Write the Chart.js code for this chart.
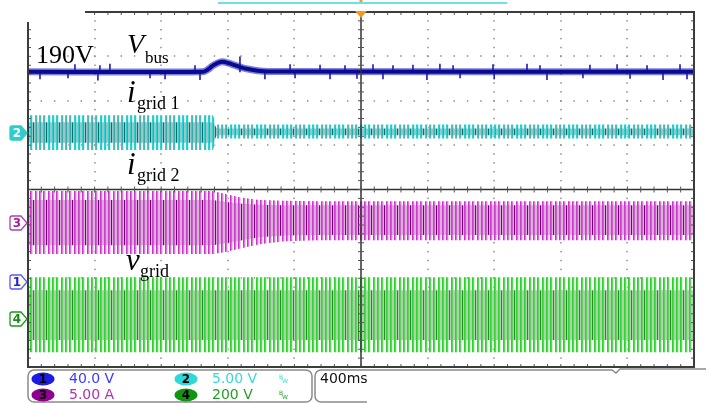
<!DOCTYPE html>
<html><head><meta charset="utf-8">
<script src="https://cdn.jsdelivr.net/npm/chart.js@4.4.1/dist/chart.umd.min.js"></script>
<style>html,body{margin:0;padding:0;background:#fff;overflow:hidden}canvas{display:block}</style>
</head><body>
<canvas id="c" width="706" height="403"></canvas>
<script>
// ---------------- data ----------------
const timebase = '400ms';
const channelIds = ['1', '2', '3', '4'];
const channelScales = ['40.0 V', '5.00 V', '5.00 A', '200 V'];
const channelPerDiv = [40, 5, 5, 200];

// Ch1 : V_bus (V)
const vbusT = [-2, -0.95, -0.92, -0.89, -0.86, -0.83, -0.80, -0.76, -0.72, -0.68, -0.62, -0.56, 2];
const vbusV = [189.5, 189.5, 191.5, 195, 197.5, 198.5, 197.5, 195.5, 193.5, 192, 190.5, 189.8, 189.5];
const vbusBase = 189.5;
const spikeT = [-1.718, -1.568, -1.508, -0.997, -0.727, -0.426, -0.246, -0.096, 0.072, 0.192, 0.312, 0.474, 0.553, 0.793, 0.997, 1.075, 1.375, 1.538, 1.718, 1.916,
                -1.928, -1.760, -1.580, -1.267, -1.177, -0.967, -0.577, -0.396, -0.186, -0.024, 0.132, 0.396, 0.595, 0.800, 1.117, 1.333, 1.616, 1.814, 1.958];
const spikeV = [196, 195, 196.5, 195, 203, 196, 195.5, 195, 196, 195, 195.5, 196.5, 195, 196, 196.5, 195, 195.5, 196, 195, 196,
                183, 184, 182, 184, 183, 182.5, 183, 184, 183, 183.5, 183, 182.5, 184, 183, 182.5, 184, 183.5, 182.5, 183];

// Ch2 : i_grid1 envelope
const ig1T = [-2, -0.89, -0.865, 2];
const ig1Top = [2.0, 2.0, 0.95, 0.95];
const ig1Bot = [-1.92, -1.92, -0.62, -0.62];
const ig1InTop = [1.2, 1.2, 0.5, 0.5];
const ig1InBot = [-1.1, -1.1, -0.25, -0.25];

// Ch3 : i_grid2 envelope (A)
const ig2T = [-2, -0.89, -0.82, -0.73, -0.61, -0.46, -0.25, 2];
const ig2Top = [3.6, 3.6, 3.3, 2.9, 2.6, 2.5, 2.45, 2.45];
const ig2Bot = [-3.5, -3.5, -3.3, -2.9, -2.4, -2.05, -1.95, -1.95];
const ig2InTop = [2.6, 2.6, 2.4, 2.2, 2.05, 2.0, 2.0, 2.0];
const ig2InBot = [-2.5, -2.5, -2.3, -2.0, -1.6, -1.4, -1.35, -1.35];

// Ch4 : v_grid envelope (V)
const vgT = [-2, 2];
const vgTop = [188, 188];
const vgBot = [-150, -150];
const vgInTop = [130, 130];
const vgInBot = [-95, -95];

// ---------------- styling ----------------
const canvas = document.getElementById('c');
const ctxMain = canvas.getContext('2d');
function stripePattern(cols) {
  const cv = document.createElement('canvas'); cv.width = cols.length; cv.height = 4;
  const g = cv.getContext('2d');
  cols.forEach((col, i) => { if (col) { g.fillStyle = col; g.fillRect(i, 0, 1, 4); } });
  return ctxMain.createPattern(cv, 'repeat');
}
const outerCols = (B, B2, L) => [B, B2, L, null, B, B2, L, null, null, B, B2, L, null];
const innerCols = (B, B2, F, D) => [B, B2, F, F, B, B2, F, D, F, B, B2, F, F];

const pat = {
  c2o: stripePattern(outerCols('#2ecfcf', '#4fb8b8', '#c8f2f2')),
  c2i: stripePattern(innerCols('#33d0d0', '#3aa8a8', '#92c8c8', '#0a7070')),
  c3o: stripePattern(outerCols('#cc33cc', '#dd77dd', '#f2ccf2')),
  c3i: stripePattern(innerCols('#cc3fcc', '#c860c8', '#dcaedc', '#7a007a')),
  c4o: stripePattern(outerCols('#2fd02f', '#55d855', '#cdf2cd')),
  c4i: stripePattern(innerCols('#33d433', '#60d060', '#acd2ac', '#2a8a2a'))
};

// channel zero offsets in divisions from screen centre (layout)
const chOffset = [-2.085, 1.273, -0.755, -2.918];
function yAxis(i) {
  const pd = channelPerDiv[i], off = chOffset[i];
  return { type: 'linear', display: false, min: -(4 + off) * pd, max: (4 - off) * pd };
}

function band(t, top, bot, axis, pattern, order) {
  const base = { type: 'line', yAxisID: axis, borderColor: 'transparent', borderWidth: 0, pointRadius: 0, tension: 0, order };
  return [
    Object.assign({}, base, { data: t.map((x, i) => ({ x, y: top[i] })), fill: false }),
    Object.assign({}, base, { data: t.map((x, i) => ({ x, y: bot[i] })), fill: '-1', backgroundColor: pattern })
  ];
}

const vbusPts = vbusT.map((x, i) => ({ x, y: vbusV[i] }));
const datasets = [].concat(
  band(vgT, vgTop, vgBot, 'y4', pat.c4o, 4),
  band(vgT, vgInTop, vgInBot, 'y4', pat.c4i, 3),
  band(ig2T, ig2Top, ig2Bot, 'y3', pat.c3o, 4),
  band(ig2T, ig2InTop, ig2InBot, 'y3', pat.c3i, 3),
  band(ig1T, ig1Top, ig1Bot, 'y2', pat.c2o, 4),
  band(ig1T, ig1InTop, ig1InBot, 'y2', pat.c2i, 3),
  [{
    type: 'line', yAxisID: 'y1', order: 2, pointRadius: 0, tension: 0.35,
    borderColor: 'rgba(40,40,205,0.6)', borderWidth: 7, fill: false, data: vbusPts
  }, {
    type: 'bar', yAxisID: 'y1', order: 1, grouped: false, barThickness: 1,
    backgroundColor: '#2323b4',
    data: spikeT.map((t, i) => ({ x: t, y: [vbusBase, spikeV[i]] }))
  }, {
    type: 'line', yAxisID: 'y1', order: 0, pointRadius: 0, tension: 0.35,
    borderColor: '#0a0a8f', borderWidth: 4, fill: false, data: vbusPts
  }]
);

// ---------------- scope decorations ----------------
const scopePlugin = {
  id: 'scope',
  beforeDatasetsDraw(chart) {
    const { ctx } = chart;
    const xs = chart.scales.x, yd = chart.scales.ydiv;
    ctx.save();
    ctx.fillStyle = '#8f8f8f';
    for (let k = -4; k <= 4; k++) {
      if (k === 0) continue;
      const x = Math.round(xs.getPixelForValue(k * 0.4));
      for (let m = 0; m <= 40; m++) {
        const y = yd.getPixelForValue(-4 + m * 0.2);
        ctx.fillRect(x - 0.75, y - 0.75, 1.5, 1.5);
      }
    }
    for (let j = -3; j <= 3; j++) {
      if (j === 0) continue;
      const y = Math.round(yd.getPixelForValue(j));
      for (let m = 0; m <= 50; m++) {
        const x = xs.getPixelForValue(-2 + m * 0.08);
        ctx.fillRect(x - 0.75, y - 0.75, 1.5, 1.5);
      }
    }
    ctx.restore();
  },
  afterDatasetsDraw(chart) {
    const { ctx, chartArea: a } = chart;
    const xs = chart.scales.x, yd = chart.scales.ydiv;
    ctx.save();
    const cx = xs.getPixelForValue(0), cy = yd.getPixelForValue(0);
    ctx.strokeStyle = '#333'; ctx.lineWidth = 1.5;
    ctx.beginPath(); ctx.moveTo(cx, a.top); ctx.lineTo(cx, a.bottom); ctx.moveTo(a.left, cy); ctx.lineTo(a.right, cy); ctx.stroke();
    ctx.lineWidth = 1; ctx.strokeStyle = '#555';
    ctx.beginPath();
    for (let m = 0; m <= 40; m++) { const y = yd.getPixelForValue(-4 + m * 0.2); ctx.moveTo(cx - 3, y); ctx.lineTo(cx + 3, y); }
    for (let m = 0; m <= 50; m++) { const x = xs.getPixelForValue(-2 + m * 0.08); ctx.moveTo(x, cy - 3); ctx.lineTo(x, cy + 3); }
    for (let m = 1; m < 50; m++) {
      const x = xs.getPixelForValue(-2 + m * 0.08);
      if (x > 88) { ctx.moveTo(x, a.top); ctx.lineTo(x, a.top + 3); }
      ctx.moveTo(x, a.bottom); ctx.lineTo(x, a.bottom - 3);
    }
    for (let m = 1; m < 40; m++) {
      const y = yd.getPixelForValue(-4 + m * 0.2);
      if (y > 24) { ctx.moveTo(a.left, y); ctx.lineTo(a.left + 3, y); }
      ctx.moveTo(a.right, y); ctx.lineTo(a.right - 3, y);
    }
    ctx.stroke();
    ctx.strokeStyle = '#3c3c3c'; ctx.lineWidth = 2;
    ctx.beginPath();
    ctx.moveTo(85, a.top); ctx.lineTo(a.right, a.top); ctx.lineTo(a.right, a.bottom); ctx.lineTo(a.left, a.bottom); ctx.lineTo(a.left, 22);
    ctx.stroke();
    ctx.restore();
  },
  afterDraw(chart) {
    const { ctx, chartArea: a } = chart;
    const xs = chart.scales.x;
    ctx.save();
    ctx.strokeStyle = '#3fd6e0'; ctx.lineWidth = 1.5;
    ctx.beginPath(); ctx.moveTo(218, 3); ctx.lineTo(507, 3); ctx.stroke();
    const cx = xs.getPixelForValue(0);
    ctx.fillStyle = '#f39a1c';
    ctx.beginPath(); ctx.moveTo(cx - 6, a.top - 1); ctx.lineTo(cx + 6, a.top - 1); ctx.lineTo(cx, a.top + 6); ctx.closePath(); ctx.fill();
    ctx.fillRect(cx - 1.5, 0, 3, 2);

    const marks = [
      { id: channelIds[1], ax: 'y2', stroke: '#2ccccc', fill: '#33cccc', text: '#ffffff' },
      { id: channelIds[2], ax: 'y3', stroke: '#b040b0', fill: '#ffffff', text: '#a020a0' },
      { id: channelIds[0], ax: 'y1', stroke: '#5a5aff', fill: '#fffbe0', text: '#2020e0' },
      { id: channelIds[3], ax: 'y4', stroke: '#1a9a1a', fill: '#ffffff', text: '#1a8a1a' }
    ];
    marks.forEach(m => {
      const y = chart.scales[m.ax].getPixelForValue(0);
      const x0 = 10, x1 = 27;
      ctx.beginPath();
      ctx.moveTo(x0 + 2, y - 7); ctx.lineTo(x1 - 6, y - 7); ctx.lineTo(x1, y); ctx.lineTo(x1 - 6, y + 7);
      ctx.lineTo(x0 + 2, y + 7); ctx.quadraticCurveTo(x0, y + 7, x0, y + 5); ctx.lineTo(x0, y - 5); ctx.quadraticCurveTo(x0, y - 7, x0 + 2, y - 7);
      ctx.closePath();
      ctx.fillStyle = m.fill; ctx.fill();
      ctx.strokeStyle = m.stroke; ctx.lineWidth = 1.3; ctx.stroke();
      ctx.fillStyle = m.text; ctx.font = 'bold 12px "DejaVu Sans", sans-serif';
      ctx.textAlign = 'center'; ctx.textBaseline = 'middle';
      ctx.fillText(m.id, 17, y + 0.5);
    });

    const serif = '"Liberation Serif", "Times New Roman", serif';
    ctx.fillStyle = '#000'; ctx.textAlign = 'left'; ctx.textBaseline = 'alphabetic';
    ctx.font = '26px ' + serif; ctx.fillText('190V', 36, 63);
    ctx.font = 'italic 28px ' + serif; ctx.fillText('V', 127, 53);
    ctx.font = '17px ' + serif; ctx.fillText('bus', 145, 63);
    ctx.font = 'italic 31px ' + serif; ctx.fillText('i', 127, 102);
    ctx.font = '18px ' + serif; ctx.fillText('grid 1', 137, 109);
    ctx.font = 'italic 31px ' + serif; ctx.fillText('i', 127, 174);
    ctx.font = '18px ' + serif; ctx.fillText('grid 2', 137, 181);
    ctx.font = 'italic 31px ' + serif; ctx.fillText('v', 126, 270);
    ctx.font = '18px ' + serif; ctx.fillText('grid', 140, 277);

    ctx.strokeStyle = '#8a8a8a'; ctx.lineWidth = 1.5;
    ctx.beginPath(); ctx.roundRect(28, 370, 284, 32, 6); ctx.stroke();
    ctx.beginPath();
    ctx.moveTo(367, 402); ctx.lineTo(321, 402); ctx.arcTo(315, 402, 315, 396, 6); ctx.lineTo(315, 376);
    ctx.arcTo(315, 370, 321, 370, 6); ctx.lineTo(612, 370); ctx.lineTo(616, 373); ctx.lineTo(620, 369); ctx.lineTo(706, 369);
    ctx.stroke();

    const badges = [
      { x: 43, y: 379, fill: '#1c1ce6', id: channelIds[0], txt: channelScales[0], tc: '#3a3aff' },
      { x: 186, y: 379, fill: '#2fd8d8', id: channelIds[1], txt: channelScales[1], tc: '#3ad8d8', bw: '#3ad8d8' },
      { x: 43, y: 395, fill: '#900090', id: channelIds[2], txt: channelScales[2], tc: '#b030b0' },
      { x: 186, y: 395, fill: '#119411', id: channelIds[3], txt: channelScales[3], tc: '#22a022', bw: '#22a022' }
    ];
    badges.forEach(b => {
      ctx.fillStyle = b.fill;
      ctx.beginPath(); ctx.ellipse(b.x, b.y, 11.5, 6.5, 0, 0, Math.PI * 2); ctx.fill();
      ctx.fillStyle = '#000'; ctx.font = 'bold 12px "DejaVu Sans", sans-serif';
      ctx.textAlign = 'center'; ctx.textBaseline = 'middle';
      ctx.fillText(b.id, b.x, b.y + 0.5);
      ctx.fillStyle = b.tc; ctx.font = '14px "DejaVu Sans", sans-serif'; ctx.textAlign = 'left';
      ctx.fillText(b.txt, b.x + 26, b.y + 0.5);
      if (b.bw) { ctx.font = '6px "DejaVu Sans", sans-serif'; ctx.fillStyle = b.bw; ctx.fillText('B', b.x + 93, b.y - 2); ctx.fillText('W', b.x + 96, b.y + 2); }
    });
    ctx.fillStyle = '#111'; ctx.font = '14px "DejaVu Sans", sans-serif'; ctx.textAlign = 'left'; ctx.textBaseline = 'middle';
    ctx.fillText(timebase, 320, 379.5);
    ctx.restore();
  }
};

new Chart(canvas, {
  type: 'line',
  data: { datasets },
  options: {
    responsive: false, animation: false, devicePixelRatio: 1, events: [],
    layout: { padding: { left: 28, top: 12, right: 12, bottom: 36 } },
    plugins: { legend: { display: false }, tooltip: { enabled: false } },
    scales: {
      x: { type: 'linear', display: false, min: -2, max: 2, offset: false },
      ydiv: { type: 'linear', display: false, min: -4, max: 4 },
      y1: yAxis(0), y2: yAxis(1), y3: yAxis(2), y4: yAxis(3)
    }
  },
  plugins: [scopePlugin]
});
</script>
</body></html>
